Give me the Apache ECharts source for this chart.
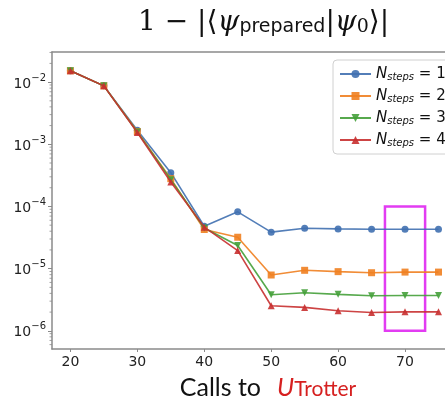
<!DOCTYPE html>
<html>
<head>
<meta charset="utf-8">
<script src="https://cdn.jsdelivr.net/npm/echarts@6/dist/echarts.min.js"></script>
<style>
  html, body { margin: 0; padding: 0; background: #fff; overflow: hidden; }
  #chart { width: 445px; height: 405px; }
</style>
</head>
<body>
<div id="chart"></div>
<script>
// Infidelity vs. number of Trotter calls, one line per step count
const calls = [20, 25, 30, 35, 40, 45, 50, 55, 60, 65, 70, 75];
const steps1 = [1.52e-2, 8.7e-3, 1.68e-3, 3.5e-4, 4.8e-5, 8.2e-5, 3.86e-5, 4.47e-5, 4.36e-5, 4.3e-5, 4.3e-5, 4.3e-5];
const steps2 = [1.52e-2, 8.7e-3, 1.6e-3, 2.8e-4, 4.26e-5, 3.2e-5, 7.9e-6, 9.4e-6, 8.95e-6, 8.6e-6, 8.8e-6, 8.8e-6];
const steps3 = [1.52e-2, 8.7e-3, 1.58e-3, 2.7e-4, 4.5e-5, 2.35e-5, 3.8e-6, 4.1e-6, 3.86e-6, 3.67e-6, 3.7e-6, 3.7e-6];
const steps4 = [1.52e-2, 8.7e-3, 1.55e-3, 2.47e-4, 4.65e-5, 1.95e-5, 2.53e-6, 2.38e-6, 2.1e-6, 1.97e-6, 2.02e-6, 2.02e-6];
const stepLabels = ['1', '2', '3', '4'];
const xTicks = [20, 30, 40, 50, 60, 70, 80];
// highlighted window: x range and y range
const boxX = [67, 73];
const boxY = [1e-6, 1e-4];

const colors = ['#4070b0', '#f08020', '#45a03a', '#c83030'];
const symbols = ['circle', 'rect', 'triangle', 'triangle'];
const rotations = [0, 0, 180, 0];
const allSeries = [steps1, steps2, steps3, steps4];

const yMin = 5.1e-7, yMax = 3.05e-2;
const xMin = 17.25, xMax = 81.8;

// minor ticks for the log axis: 2..9 x 10^k inside the range
const minorVals = [];
for (let e = -7; e <= -2; e++) {
  for (let m = 2; m <= 9; m++) {
    const v = m * Math.pow(10, e);
    if (v > yMin && v < yMax) minorVals.push(v);
  }
}

const axisGray = '#8a8a8a';

const series = allSeries.map((vals, i) => ({
  name: stepLabels[i],
  type: 'line',
  data: calls.map((c, j) => [c, vals[j]]),
  symbol: symbols[i],
  symbolRotate: rotations[i],
  symbolSize: 7,
  showSymbol: true,
  lineStyle: { color: colors[i], width: 1.6, opacity: 0.9 },
  itemStyle: { color: colors[i], opacity: 0.9 },
  emphasis: { disabled: true },
  z: 3 + i
}));

series[0].markArea = {
  silent: true,
  itemStyle: { color: 'rgba(0,0,0,0)', borderColor: '#e23cf2', borderWidth: 2.5 },
  data: [[{ coord: [boxX[0], boxY[0]] }, { coord: [boxX[1], boxY[1]] }]]
};

series.push({
  type: 'custom',
  silent: true,
  clip: false,
  data: minorVals.map(v => [xMin, v]),
  renderItem: function (params, api) {
    const p = api.coord([api.value(0), api.value(1)]);
    return {
      type: 'line',
      shape: { x1: p[0] - 2.5, y1: p[1], x2: p[0], y2: p[1] },
      style: { stroke: axisGray, lineWidth: 0.8 }
    };
  },
  z: 1
});

const chart = echarts.init(document.getElementById('chart'), null, { renderer: 'canvas' });
chart.setOption({
  animation: false,
  backgroundColor: '#fff',
  title: {
    left: 133,
    top: -4,
    text: '{a|1 − |⟨}{b|ψ}{c|prepared}{a||}{b|ψ}{d|0}{a|⟩|}',
    textStyle: {
      rich: {
        a: { fontFamily: 'DejaVu Serif', fontWeight: 'normal', fontSize: 28, color: '#111', verticalAlign: 'bottom', lineHeight: 36 },
        b: { fontFamily: 'DejaVu Serif', fontWeight: 'normal', fontStyle: 'italic', fontSize: 28, color: '#111', verticalAlign: 'bottom', lineHeight: 36 },
        c: { fontFamily: 'DejaVu Sans', fontWeight: 'normal', fontSize: 19, color: '#111', verticalAlign: 'bottom', lineHeight: 30 },
        d: { fontFamily: 'DejaVu Serif', fontWeight: 'normal', fontSize: 19, color: '#111', verticalAlign: 'bottom', lineHeight: 30 }
      }
    }
  },
  legend: {
    left: 333,
    top: 60,
    orient: 'vertical',
    itemWidth: 31,
    itemHeight: 10,
    itemGap: 6,
    padding: [6, 8, 6, 6],
    backgroundColor: '#fff',
    borderColor: '#d0d0d0',
    borderWidth: 1,
    borderRadius: 4,
    data: stepLabels,
    formatter: function (name) {
      return '{n|N}{s|steps}{e| = ' + name + '}';
    },
    textStyle: {
      rich: {
        n: { fontFamily: 'DejaVu Sans', fontStyle: 'italic', fontSize: 15, color: '#111', lineHeight: 15 },
        s: { fontFamily: 'DejaVu Sans', fontStyle: 'italic', fontSize: 10, color: '#111', lineHeight: 15, padding: [6, 0, 0, 0] },
        e: { fontFamily: 'DejaVu Sans', fontSize: 15, color: '#111', lineHeight: 15 }
      }
    }
  },
  grid: { left: 52, top: 52, right: -39, bottom: 56, containLabel: false, outerBoundsMode: 'none' },
  xAxis: [{
    type: 'value',
    min: xMin,
    max: xMax,
    axisLine: { lineStyle: { color: axisGray, width: 1.5 } },
    axisTick: { customValues: xTicks, length: 3, lineStyle: { color: axisGray } },
    axisLabel: { customValues: xTicks, fontFamily: 'DejaVu Sans', fontSize: 14, color: '#222', margin: 6 },
    splitLine: { show: false },
    name: '{t|Calls to}{u|U}{r|Trotter}',
    nameLocation: 'middle',
    nameGap: 21,
    nameTextStyle: {
      rich: {
        t: { fontFamily: 'Lato', fontSize: 25, color: '#111', verticalAlign: 'bottom', lineHeight: 30 },
        u: { fontFamily: 'Lato', fontStyle: 'italic', fontSize: 25, color: '#d62020', verticalAlign: 'bottom', lineHeight: 30, padding: [0, 0, 0, 16] },
        r: { fontFamily: 'Lato', fontSize: 21, color: '#d62020', verticalAlign: 'bottom', lineHeight: 25 }
      }
    }
  }, {
    type: 'value',
    position: 'top',
    min: xMin,
    max: xMax,
    axisLine: { show: true, lineStyle: { color: axisGray, width: 1.5 } },
    axisTick: { show: false },
    axisLabel: { show: false },
    splitLine: { show: false }
  }],
  yAxis: {
    type: 'log',
    logBase: 10,
    min: yMin,
    max: yMax,
    axisLine: { show: true, lineStyle: { color: axisGray, width: 1.5 } },
    axisTick: { show: true, length: 4, lineStyle: { color: axisGray } },
    axisLabel: {
      showMinLabel: false,
      showMaxLabel: false,
      margin: 6,
      formatter: function (v) {
        const e = Math.round(Math.log10(v));
        return '{b|10}{s|−' + Math.abs(e) + '}';
      },
      rich: {
        b: { fontFamily: 'DejaVu Sans', fontSize: 14, color: '#222', verticalAlign: 'bottom' },
        s: { fontFamily: 'DejaVu Sans', fontSize: 10, color: '#222', verticalAlign: 'bottom', padding: [0, 0, 8, 0] }
      }
    },
    splitLine: { show: false }
  },
  series: series
});
</script>
</body>
</html>
